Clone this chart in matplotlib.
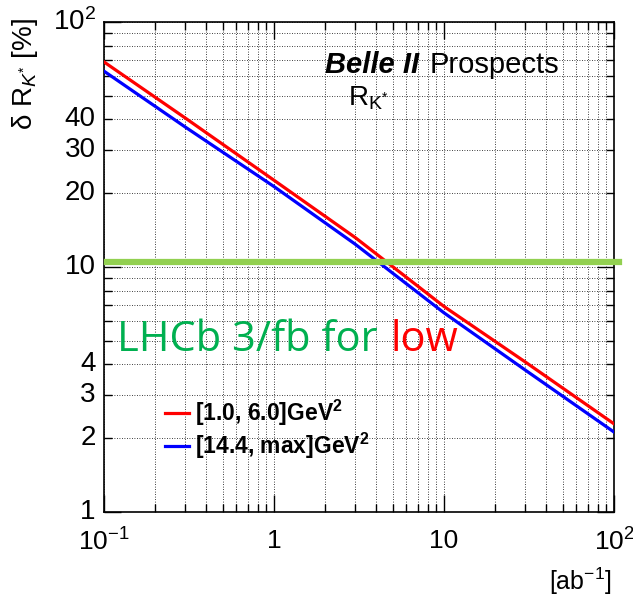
import matplotlib
matplotlib.use("Agg")
import matplotlib.pyplot as plt
from matplotlib.ticker import LogLocator, FixedLocator, FixedFormatter, NullFormatter

plt.rcParams['font.family'] = ['Liberation Sans', 'DejaVu Sans']
plt.rcParams['mathtext.fontset'] = 'custom'
plt.rcParams['mathtext.rm'] = 'Liberation Sans'
plt.rcParams['mathtext.it'] = 'Liberation Sans:italic'
plt.rcParams['mathtext.bf'] = 'Liberation Sans:bold'

# ---- data ----
luminosity = [0.1, 0.3, 1, 3, 10, 30, 100]          # ab^-1
low_q2 = [68.7, 40.6, 22.6, 13.2, 6.9, 4.1, 2.29]    # [1.0, 6.0] GeV^2
high_q2 = [63.0, 37.3, 21.3, 12.4, 6.5, 3.8, 2.12]   # [14.4, max] GeV^2
series_labels = [r'[1.0, 6.0]GeV$^{\mathbf{2}}$', r'[14.4, max]GeV$^{\mathbf{2}}$']
lhcb_value = 10.5
y_tick_values = [1, 2, 3, 4, 10, 20, 30, 40, 100]
y_tick_labels = ['1', '2', '3', '4', '10', '20', '30', '40', r'$10^{2}$']
x_tick_values = [0.1, 1, 10, 100]
x_tick_labels = [r'$10^{-1}$', '1', '10', r'$10^{2}$']

W, H = 633, 600
fig = plt.figure(figsize=(W / 100, H / 100), dpi=100)
L, R, T, B = 104, 614, 22, 512
ax = fig.add_axes([L / W, 1 - B / H, (R - L) / W, (B - T) / H])
ax.set_xscale('log')
ax.set_yscale('log')
ax.set_xlim(0.1, 100)
ax.set_ylim(1, 100)

ax.plot(luminosity, low_q2, color='#ff0000', lw=2.3, label=series_labels[0], zorder=3)
ax.plot(luminosity, high_q2, color='#0000ff', lw=2.3, label=series_labels[1], zorder=3)
ax.axhline(lhcb_value, xmin=0.006, xmax=1.01, color='#92d050', lw=4.5, clip_on=False, zorder=4)

# ticks
ax.xaxis.set_major_locator(FixedLocator(x_tick_values))
ax.xaxis.set_major_formatter(FixedFormatter(x_tick_labels))
ax.xaxis.set_minor_locator(LogLocator(base=10, subs=range(2, 10)))
ax.xaxis.set_minor_formatter(NullFormatter())
ax.yaxis.set_major_locator(FixedLocator([1, 10, 100]))
ax.yaxis.set_minor_locator(LogLocator(base=10, subs=range(2, 10)))
ax.yaxis.set_major_formatter(NullFormatter())
ax.yaxis.set_minor_formatter(NullFormatter())
ax.tick_params(which='both', direction='in', top=True, right=True, width=1.0, labelsize=19)
ax.tick_params(which='major', length=12)
ax.tick_params(which='minor', length=6)
ax.tick_params(axis='x', which='major', pad=12)
for s in ax.spines.values():
    s.set_linewidth(1.2)

# y labels placed manually (ROOT-style more-log-labels)
for v, lab in zip(y_tick_values, y_tick_labels):
    ax.text(-0.016, v, lab, transform=ax.get_yaxis_transform(), ha='right', va='center', fontsize=20)

ax.grid(True, which='both', color='black', lw=0.6, linestyle=(0, (1, 2)))
ax.set_axisbelow(True)

# texts
def px(x, y):
    return x / W, 1 - y / H

fig.text(*px(25, 18), r'δ R$_{K^{*}}$ [%]', rotation=90, ha='center', va='top', fontsize=20)
fig.text(*px(612, 590), r'[ab$^{\mathrm{-1}}$]', ha='right', va='baseline', fontsize=18)
fig.text(*px(325, 73), 'Belle II', fontweight='bold', fontstyle='italic', fontsize=21, va='baseline')
fig.text(*px(430, 73), 'Prospects', fontsize=21, va='baseline')
fig.text(*px(348, 105), r'R$_{\mathrm{K}^{*}}$', fontsize=20, va='baseline')
fig.text(*px(117, 351), 'LHCb 3/fb for', color='#00b050', fontsize=30, va='baseline', family='Open Sans')
fig.text(*px(391, 351), 'low', color='#ff0000', fontsize=30, va='baseline', family='Open Sans')

leg = ax.legend(loc='upper left', bbox_to_anchor=px(165, 398), bbox_transform=fig.transFigure,
                frameon=False, prop={'weight': 'bold', 'size': 16.5}, handlelength=1.05,
                handletextpad=0.25, labelspacing=0.12, borderaxespad=0, borderpad=0)

fig.savefig('out.png', dpi=100)
